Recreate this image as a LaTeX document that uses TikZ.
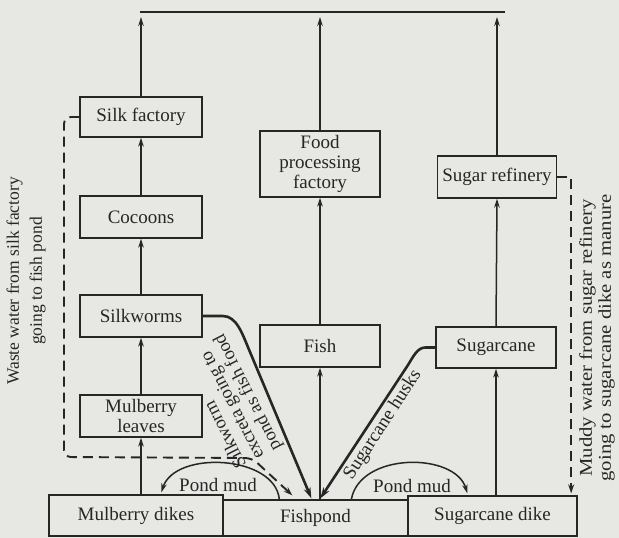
\documentclass[tikz,border=0pt]{standalone}
\usepackage{fontspec}
\setmainfont{Liberation Serif}
\newfontfamily\widefont[FakeStretch=1.15]{Liberation Serif}
\usetikzlibrary{arrows.meta,calc}
\definecolor{bg}{RGB}{231,231,228}
\definecolor{ink}{RGB}{38,38,38}
\begin{document}
\begin{tikzpicture}[x=1pt,y=-1pt,
  box/.style={draw=ink, line width=1.3pt, inner sep=0pt, align=center,
    font=\fontsize{19}{20}\selectfont, text=ink},
  flow/.style={draw=ink, line width=1.5pt, -{Stealth[length=9pt,width=5.5pt]}},
  thickflow/.style={draw=ink, line width=2.6pt, -{Stealth[length=11pt,width=7pt]}},
  waste/.style={draw=ink, line width=1.9pt, dash pattern=on 10pt off 6pt,
    -{Stealth[length=9pt,width=6pt]}},
  lbl/.style={text=ink, font=\fontsize{19}{20}\selectfont, inner sep=0pt}
]
\fill[bg] (0,0) rectangle (619,538);
\useasboundingbox (0,0) rectangle (619,538);

% left column
\node[box, minimum width=122, minimum height=40] (silk) at (141,117) {Silk factory};
\node[box, minimum width=122, minimum height=42] (cocoons) at (141,217) {Cocoons};
\node[box, minimum width=122, minimum height=42] (worms) at (141,316) {Silkworms};
\node[box, minimum width=122, minimum height=42] (leaves) at (141,416) {Mulberry\\leaves};
% middle column
\node[box, minimum width=120, minimum height=66] (food) at (320,164) {Food\\processing\\factory};
\node[box, minimum width=120, minimum height=42] (fish) at (320,346) {Fish};
% right column
\node[box, minimum width=119, minimum height=42] (refinery) at (497,177) {Sugar refinery};
\node[box, minimum width=120, minimum height=41] (sugarcane) at (496,347.5) {Sugarcane};
% bottom row
\node[box, minimum width=174, minimum height=41] (dikes) at (136,515.5) {Mulberry dikes};
\node[box, minimum width=185, minimum height=36] (fishpond) at (315.5,518) {Fishpond};
\node[box, minimum width=169, minimum height=40] (canedike) at (492.5,516) {Sugarcane dike};

% top line
\coordinate (topL) at (140,12);
\coordinate (topR) at (505,12);
\draw[ink, line width=1.9pt] (topL) -- (topR);

% vertical flows
\draw[flow] (leaves.south |- dikes.north) -- (leaves.south);
\draw[flow] (leaves.north) -- (worms.south);
\draw[flow] (worms.north) -- (cocoons.south);
\draw[flow] (cocoons.north) -- (silk.south);
\draw[flow] (silk.north) -- ($(silk.north |- topL)+(0,5)$);

\draw[flow] (fish.south |- fishpond.north) -- (fish.south);
\draw[flow] (fish.north) -- (food.south);
\draw[flow] (food.north) -- ($(food.north |- topL)+(0,5)$);

\draw[flow] (sugarcane.south |- canedike.north) -- (sugarcane.south);
\draw[flow] (sugarcane.north) -- (refinery.south);
\draw[flow] (refinery.north) -- ($(refinery.north |- topL)+(0,5)$);

% converging points on the fishpond
\coordinate (fpA) at ($(fishpond.north west)+(89,-1)$);
\coordinate (fpB) at ($(fishpond.north west)+(98,-1)$);
\coordinate (fpC) at ($(fishpond.north west)+(70,-4)$);

% silkworm excreta
\draw[thickflow] (worms.east) -- ++(20,0) .. controls +(14,0) and (242,333) .. (250,352) -- (fpA);
% sugarcane husks
\draw[thickflow] (sugarcane.west) -- ++(-10,0) .. controls +(-8,0) and (413,357) .. (408,365) -- (fpB);

% waste water (dashed)
\draw[waste, rounded corners=7pt] (silk.west) -- (64,117) -- (64,457) -- (252,458) -- (fpC);
\draw[waste] (refinery.east) -- ++(14,0) coordinate (rc) -- ($(rc |- canedike.north)+(0,-2)$);

% pond mud
\draw[flow] ($(fishpond.north west)+(57,0)$) .. controls (275,455) and (175,450) .. ($(dikes.north west)+(113,-2)$);
\draw[flow] ($(fishpond.north west)+(129,0)$) .. controls (360,452) and (455,452) .. ($(canedike.north west)+(60,-2)$);

% labels
\node[lbl] (pm1) at (218,485) {Pond mud};
\node[lbl] (pm2) at (412,486) {Pond mud};
\node[lbl, rotate=57] (husks) at (383,425) {Sugarcane husks};
\node[lbl, rotate=117, align=left, font=\fontsize{18.5}{19.5}\selectfont] (excreta) at (231,401)
  {Silkworm\\excreta going to\\pond as fish food};
\node[lbl, rotate=90, align=center, font=\fontsize{17.5}{23}\selectfont] (wl) at (26,281)
  {Waste water from silk factory\\going to fish pond};
\node[lbl, rotate=90, align=center, font=\widefont\fontsize{18}{19}\selectfont] (wr) at (597,338)
  {Muddy water from sugar refinery\\going to sugarcane dike as manure};
\end{tikzpicture}
\end{document}
